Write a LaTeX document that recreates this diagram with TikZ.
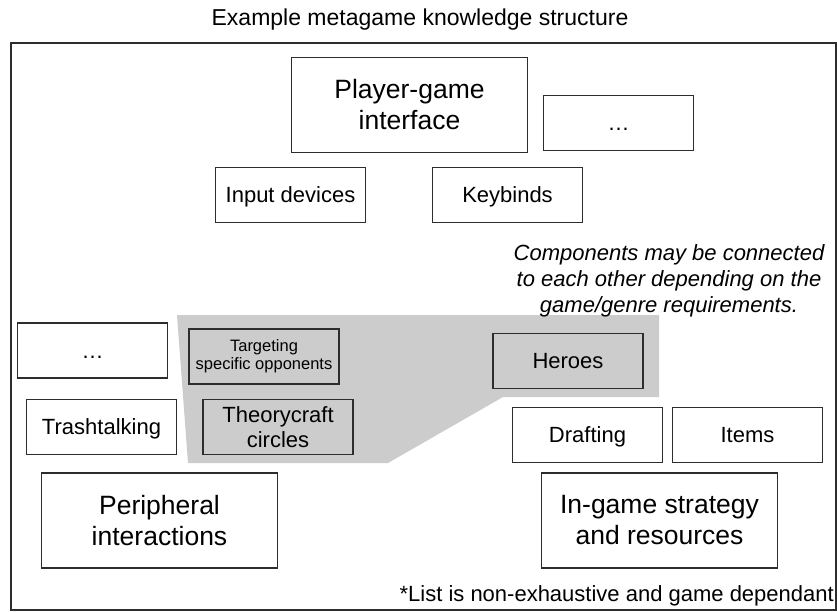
\documentclass[tikz,border=0pt]{standalone}
\usepackage{fontspec}
\setmainfont{Liberation Sans}
\usepackage{xcolor}
\definecolor{boxline}{RGB}{45,45,45}
\definecolor{grayfill}{RGB}{204,204,204}
\usepackage{tikz}
\usetikzlibrary{positioning}

\tikzset{
  box/.style={draw=boxline, line width=1.2pt, minimum width=150pt, minimum height=55pt,
    inner sep=0pt, align=center, font=\fontsize{22}{25}\selectfont},
  oneline/.style={text height=15.8pt, text depth=0pt},
  bigbox/.style={box, minimum width=236pt, minimum height=95pt, font=\fontsize{26.5}{31}\selectfont},
  graybox/.style={box, fill=grayfill},
}

\begin{document}
\begin{tikzpicture}[x=1pt,y=-1pt]
            \useasboundingbox (0,0) rectangle (837,611);
            \node[font=\fontsize{23}{26}\selectfont] (title) at (420,20) {Example metagame knowledge structure};
            \draw[boxline, line width=1.2pt] (11,43) rectangle (836,610);
            \coordinate (A) at (177,315);
            \coordinate (B) at (659,315);
            \coordinate (C) at (659,397);
            \coordinate (D) at (503,397);
            \coordinate (E) at (388,463);
            \coordinate (F) at (188,463);
            \fill[grayfill] (A) -- (B) -- (C) -- (D) -- (E) -- (F) -- cycle;
            \node[bigbox] (interface) at (409.5,105) {Player-game\\interface};
            \node[box, oneline] (moreinterface) at (618.5,123) {…};
            \node[box, oneline] (input) at (290.5,195) {Input devices};
            \node[box, oneline] (keybinds) at (507.5,195) {Keybinds};
            \node[font=\itshape\fontsize{22}{26}\selectfont, align=center] (note) at (669,281)
              {Components may be connected\\to each other depending on the\\game/genre requirements.};
            \node[box, oneline] (moreperipheral) at (92.5,350.5) {…};
            \node[graybox, font=\fontsize{16.5}{18}\selectfont] (targeting) at (264,356.5) {Targeting\\specific opponents};
            \node[graybox, oneline] (heroes) at (568,361) {Heroes};
            \node[box, oneline] (trashtalk) at (101.5,427) {Trashtalking};
            \node[graybox] (theorycraft) at (278,427) {Theorycraft\\circles};
            \node[box, oneline] (drafting) at (587.5,435) {Drafting};
            \node[box, oneline] (items) at (747.5,435) {Items};
            \node[bigbox] (peripheral) at (159.5,520.5) {Peripheral\\interactions};
            \node[bigbox] (ingame) at (659.5,520.5) {In-game strategy\\and resources};
            \node[anchor=base east, inner sep=0pt, font=\fontsize{22}{25}\selectfont] (footnote) at (834,601)
              {*List is non-exhaustive and game dependant};
        \end{tikzpicture}
\end{document}
